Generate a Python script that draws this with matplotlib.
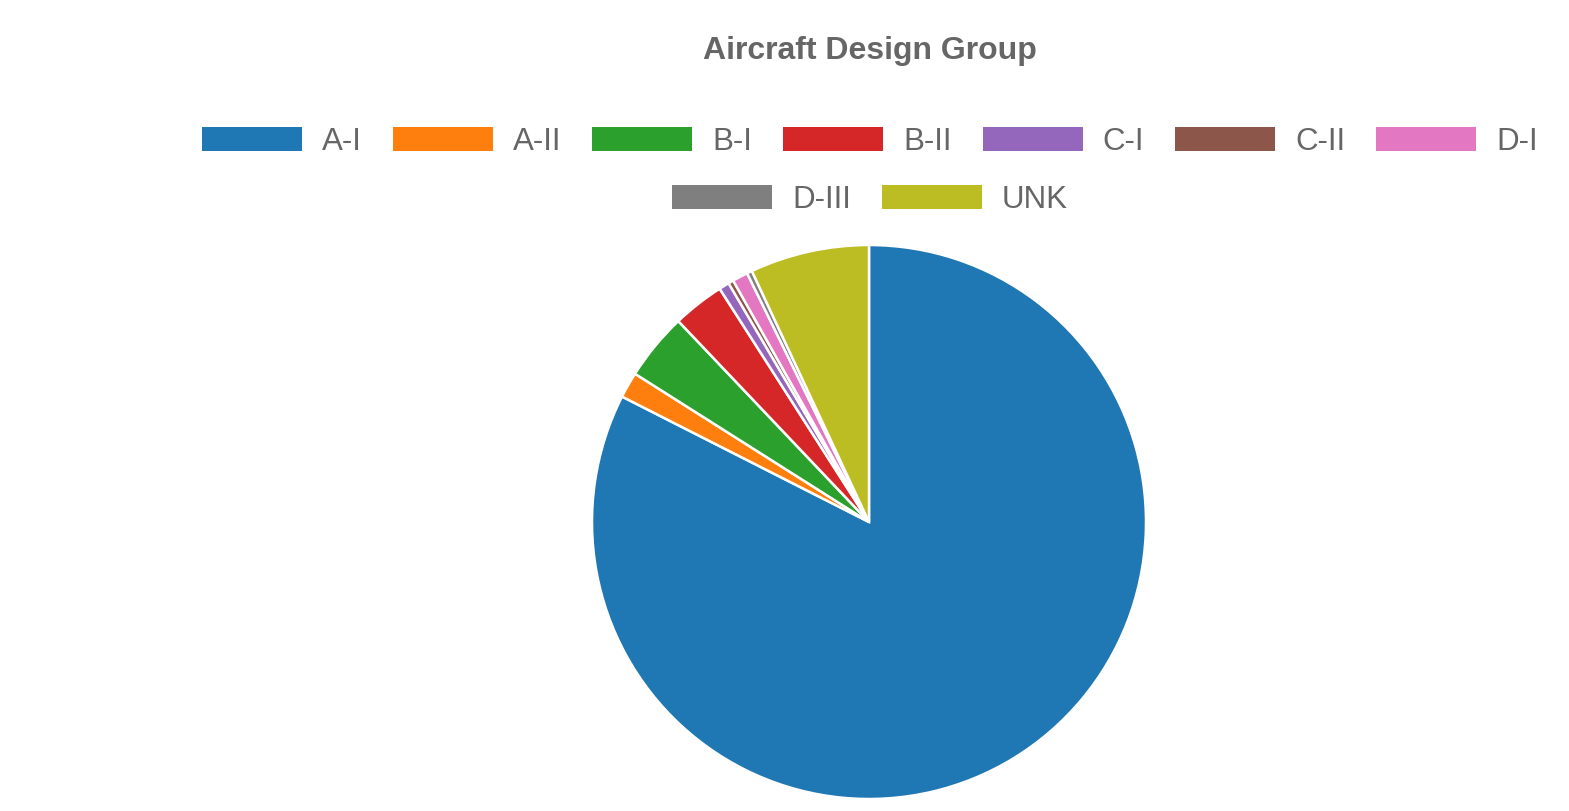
import matplotlib
matplotlib.use("Agg")
import matplotlib.pyplot as plt
from matplotlib.patches import Patch

# Aircraft counts by design group
groups = ["A-I", "A-II", "B-I", "B-II", "C-I", "C-II", "D-I", "D-III", "UNK"]
counts = [273, 5, 13, 10, 2, 1, 3, 1, 23]
colors = ["#1f77b4", "#ff7f0e", "#2ca02c", "#d62728", "#9467bd",
          "#8c564b", "#e377c2", "#7f7f7f", "#bcbd22"]

plt.rcParams["font.family"] = ["Liberation Sans", "DejaVu Sans"]
text_color = "#666666"

W, H = 1569, 811
fig = plt.figure(figsize=(W / 100, H / 100), dpi=100)
fig.patch.set_facecolor("white")

# square axes for the pie
cx, cy, r = 869, 522, 277
ax = fig.add_axes([(cx - r) / W, (H - cy - r) / H, 2 * r / W, 2 * r / H])
ax.pie(counts, colors=colors, startangle=90, counterclock=False,
       wedgeprops=dict(edgecolor="white", linewidth=1.8), radius=1.0)
ax.set_xlim(-1, 1)
ax.set_ylim(-1, 1)
ax.set_aspect("equal")
ax.axis("off")

fig.text(870 / W, 1 - 51 / H, "Aircraft Design Group", ha="center", va="center",
         fontsize=23, fontweight="bold", color=text_color)

handles = [Patch(facecolor=c, edgecolor="none") for c in colors]
fs = 22.5
fpx = fs * 100 / 72
common = dict(frameon=False, fontsize=fs, labelcolor=text_color,
              handlelength=100 / fpx, handleheight=25 / fpx,
              handletextpad=20 / fpx, columnspacing=31 / fpx,
              borderpad=0, borderaxespad=0)
leg1 = fig.legend(handles[:7], groups[:7], ncol=7, loc="center",
                  bbox_to_anchor=(870 / W, 1 - 142 / H), **common)
leg2 = fig.legend(handles[7:], groups[7:], ncol=2, loc="center",
                  bbox_to_anchor=(870 / W, 1 - 200 / H), **common)

fig.savefig("out.png", dpi=100, facecolor="white")
